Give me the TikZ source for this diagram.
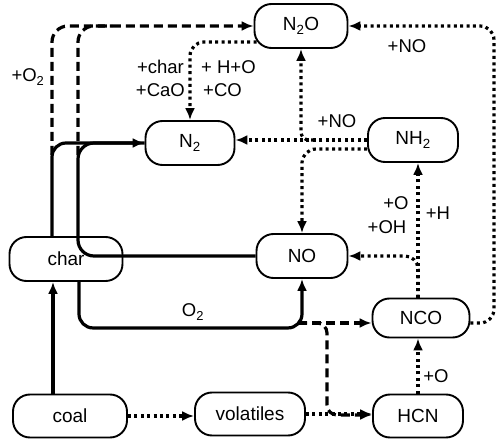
\documentclass[tikz,border=0pt]{standalone}
\usepackage{fontspec}
\setmainfont{Liberation Sans}
\usetikzlibrary{arrows.meta}
\begin{document}
\begin{tikzpicture}[x=1pt,y=-1pt,
  box/.style={draw,line width=1.9pt,rounded corners=17pt,minimum height=44pt,inner sep=0pt,font=\fontsize{19}{21}\selectfont},
  lab/.style={inner sep=0pt,font=\fontsize{18.5}{21}\selectfont},
  tip/.style={-{Latex[length=12pt,width=10pt]}},
  sol/.style={line width=3.2pt},
  dsh/.style={line width=3.2pt,dash pattern=on 9pt off 5pt},
  dot/.style={line width=3.2pt,dash pattern=on 3pt off 3.4pt},
]
\useasboundingbox (0,0) rectangle (498,441);
% nodes
\node[box,minimum width=93pt] (n2o) at (301,26) {N\textsubscript{2}O};
\node[box,minimum width=89pt] (n2) at (190,143) {N\textsubscript{2}};
\node[box,minimum width=90pt] (nh2) at (413,140) {NH\textsubscript{2}};
\node[box,minimum width=113pt] (char) at (66,259) {char};
\node[box,minimum width=91pt] (no) at (302,256) {NO};
\node[box,minimum width=97pt,minimum height=39pt] (nco) at (421,318) {NCO};
\node[box,minimum width=114pt,minimum height=43pt] (coal) at (70,416) {coal};
\node[box,minimum width=110pt,minimum height=43pt] (vol) at (250,414) {volatiles};
\node[box,minimum width=90pt,minimum height=43pt] (hcn) at (418,416) {HCN};
% helper coordinates
\coordinate (dl) at (52,155);
\coordinate (dr) at (78,155);
\coordinate (dm) at (112,26);
\coordinate (j) at (298,323);
\coordinate (jh) at (327,415);
\coordinate (jn) at (314,140);
\coordinate (rt) at (494,26);
% solid
\draw[sol,tip] ([xshift=-17pt]coal.north) -- ([xshift=-17pt]coal.north |- char.south);
\draw[sol,tip,rounded corners=14pt] ([xshift=-14pt]char.north) |- (n2.west);
\draw[sol,rounded corners=16pt] (no.west) -| (dr |- n2.west) -- (n2.west);
\draw[sol,tip,rounded corners=14pt] ([xshift=13pt]char.south) |- ([yshift=-49pt]no.south) -- (no.south);
\node[lab] at (193,312) {O\textsubscript{2}};
% dashed
\draw[dsh,tip] (j) -- (j -| nco.west);
\draw[dsh,tip,rounded corners=10pt] (j) -| (jh) -- (jh -| hcn.west);
\draw[dsh,tip,rounded corners=16pt] (dl) |- (n2o.west);
\draw[dsh,rounded corners=16pt] (dr) |- (dm);
\node[lab] at (28,77) {+O\textsubscript{2}};
% dotted
\draw[dot,tip] (coal.east) -- (coal.east -| vol.west);
\draw[dot,tip] (vol.east) -- (vol.east -| hcn.west);
\draw[dot,tip] (hcn.north) -- (hcn.north |- nco.south);
\node[lab] at (436,376) {+O};
\draw[dot,tip] (hcn.north |- nco.north) -- (hcn.north |- nh2.south);
\node[lab] at (396,203) {+O};
\node[lab] at (387,227) {+OH};
\node[lab] at (438,213) {+H};
\draw[dot,tip,rounded corners=13pt] (hcn.north |- nco.north) |- (no.east);
\draw[dot,tip,rounded corners=14pt] ([yshift=-5pt]nco.east) -| (rt) -- (n2o.east);
\node[lab] at (407,46) {+NO};
\draw[dot,tip] (nh2.west) -- (nh2.west -| n2.east);
\draw[dot,tip,rounded corners=8pt] (jn) -| (n2o.south);
\node[lab] at (337,121) {+NO};
\draw[dot,tip,rounded corners=14pt] ([yshift=-9pt]nh2.west) -| (no.north);
\draw[dot,tip,rounded corners=14pt] ([xshift=3pt,yshift=-16pt]n2o.west) -| (n2.north);
\node[lab,anchor=east] at (184,67) {+char};
\node[lab,anchor=east] at (185,90) {+CaO};
\node[lab,anchor=west] at (201,67) {+ H+O};
\node[lab,anchor=west] at (203,90) {+CO};
\end{tikzpicture}
\end{document}
